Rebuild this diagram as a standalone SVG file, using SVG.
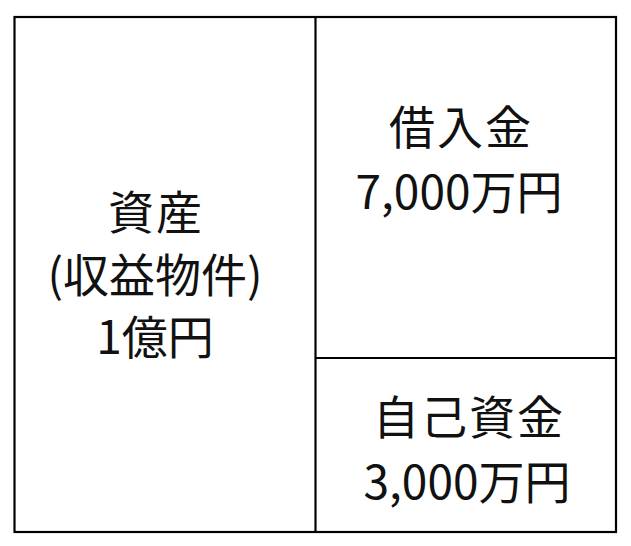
<svg xmlns="http://www.w3.org/2000/svg" width="631" height="546" viewBox="0 0 631 546">
<style>
.box{fill:none;stroke:#000;stroke-width:2.2}
.t{font-family:"Noto Sans CJK JP","Noto Sans",sans-serif;font-size:46px;letter-spacing:2px;fill:#111;text-anchor:middle}
.n{letter-spacing:0}
</style>
<rect width="631" height="546" fill="#fff"/>
<g id="connectors">
<rect class="box" x="14.5" y="17" width="601.5" height="515"/>
<line class="box" x1="315.5" y1="17" x2="315.5" y2="532"/>
<line class="box" x1="315.5" y1="358" x2="616" y2="358"/>
</g>
<g id="assets">
<text class="t" x="156" y="229">資産</text>
<text class="t n" x="155" y="292">(収益物件)</text>
<text class="t n" x="155" y="354">1億円</text>
</g>
<g id="loan">
<text class="t" x="461" y="144">借入金</text>
<text class="t n" x="459" y="209">7,000万円</text>
</g>
<g id="equity">
<text class="t" x="469" y="434">自己資金</text>
<text class="t n" x="467" y="499">3,000万円</text>
</g>
</svg>
